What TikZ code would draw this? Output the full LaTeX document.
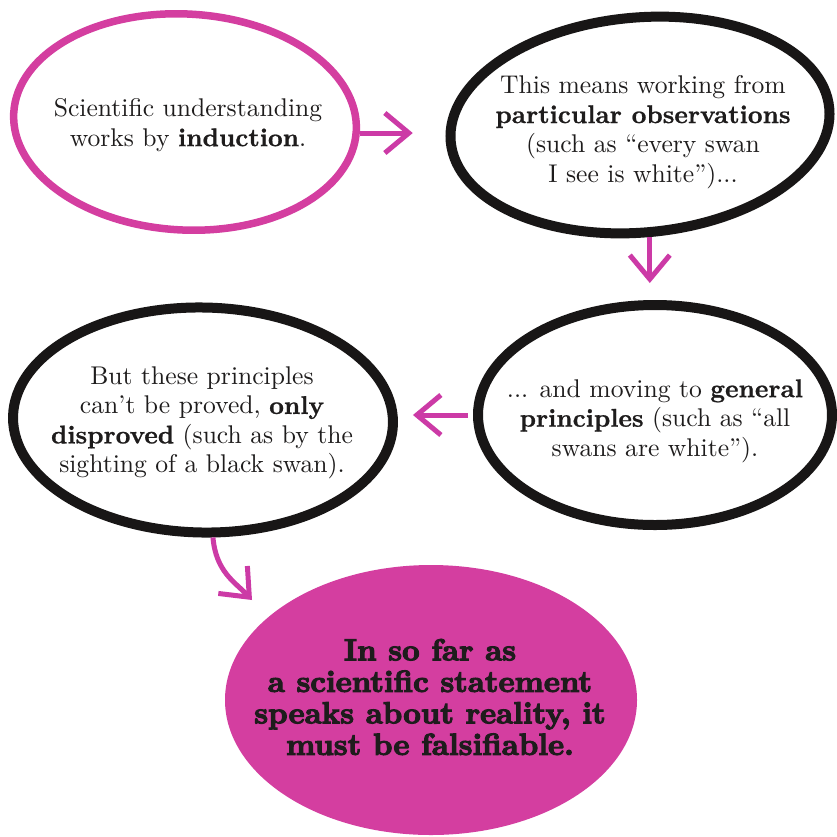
\documentclass[tikz,border=0pt]{standalone}
\usepackage{fontspec}
\usetikzlibrary{shapes.geometric,arrows.meta}
\setmainfont{lmroman10-regular.otf}[BoldFont=lmroman10-bold.otf, BoldFeatures={FakeBold=0.8}]
\newfontfamily\heavyfont[FakeBold=3.6]{lmroman10-bold.otf}
\definecolor{mpink}{RGB}{212,62,160}
\definecolor{arrowpink}{RGB}{204,58,166}
\definecolor{inkblack}{RGB}{24,22,22}
\definecolor{textblack}{RGB}{30,28,28}
\begin{document}
\begin{tikzpicture}[x=1pt,y=-1pt,
  ell/.style={ellipse, draw=inkblack, line width=10pt, inner sep=0pt},
  pinkell/.style={ellipse, draw=mpink, line width=7.5pt, inner sep=0pt},
  fillell/.style={ellipse, fill=mpink, draw=none, inner sep=0pt},
  body/.style={align=center, font=\fontsize{25.6}{29.5}\selectfont, text=textblack, inner sep=0pt},
  heavy/.style={align=center, font=\heavyfont\fontsize{30.5}{31.5}\selectfont, text=textblack, inner sep=0pt},
  arr/.style={draw=arrowpink, line width=5pt, -{Straight Barb[length=24pt,width=40pt]}}
]
\useasboundingbox[fill=white] (0,0) rectangle (837,836);

% shapes
\node[pinkell, minimum width=343pt, minimum height=216pt, rotate=-3] (A) at (185,122) {};
\node[ell, minimum width=380pt, minimum height=215pt, rotate=5] (B) at (640,125) {};
\node[ell, minimum width=354pt, minimum height=220pt] (C) at (655,415) {};
\node[ell, minimum width=380pt, minimum height=225pt, rotate=-1] (D) at (203,420) {};
\node[fillell, minimum width=412pt, minimum height=270pt] (E) at (431,700) {};

% texts
\node[body] (tA) at (188,125) {Scientific understanding\\works by \textbf{induction}.};
\node[body] (tB) at (643,132) {This means working from\\\textbf{particular observations}\\(such as “every swan\\I see is white”)...};
\node[body] (tC) at (655,421) {... and moving to \textbf{general}\\\textbf{principles} (such as “all\\swans are white”).};
\node[body] (tD) at (202,423) {But these principles\\can’t be proved, \textbf{only}\\\textbf{disproved} (such as by the\\sighting of a black swan).};
\node[heavy] (tE) at (430,697) {In so far as\\a scientific statement\\speaks about reality, it\\must be falsifiable.};

% connectors
\draw[arr, shorten >=33pt] (A.east |- 0,133) -- (B.west |- 0,133);
\draw[arr, shorten >=17pt] (B.south) -- (B.south |- C.north);
\draw[arr, shorten <=5pt, shorten >=15pt] (C.west) -- (D.east |- C.west);
\coordinate (t4) at (252,600);
\draw[arr] ([xshift=12pt]D.south) .. controls (216,572) and (235,582) .. (t4);
\end{tikzpicture}
\end{document}
